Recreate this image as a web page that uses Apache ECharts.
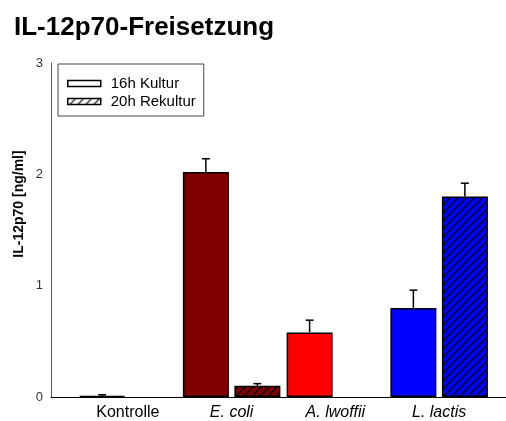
<!DOCTYPE html>
<html>
<head>
<meta charset="utf-8">
<script src="https://cdn.jsdelivr.net/npm/echarts@6/dist/echarts.min.js"></script>
<style>
  html, body { margin: 0; padding: 0; background: #fff; }
  #chart { width: 506px; height: 421px; }
</style>
</head>
<body>
<div id="chart"></div>
<script>
// IL-12p70 release (ng/ml), mean and standard error per stimulus
const categories = ['Kontrolle', 'E. coli', 'A. lwoffii', 'L. lactis'];
const seriesNames = ['16h Kultur', '20h Rekultur'];
const culture16h = [0.01, 2.02, 0.58, 0.80];
const culture16hErr = [0.01, 0.12, 0.11, 0.16];
const recult20h = [null, 0.10, null, 1.80];
const recult20hErr = [null, 0.02, null, 0.12];
const barColors = ['#ffffff', '#800000', '#ff0000', '#0000ff'];
const yTicks = [0, 1, 2, 3];

const FONT = '"Liberation Sans", Arial, sans-serif';
const BAR_W = 46;
const BAR_GAP = 5.5;
const HALF_STEP = (BAR_W + BAR_GAP) / 2;

// diagonal "/" hatching over a background colour
function hatch(bg, size, lw) {
  const n = size || 8;
  const c = document.createElement('canvas');
  c.width = n; c.height = n;
  const g = c.getContext('2d');
  g.fillStyle = bg;
  g.fillRect(0, 0, n, n);
  g.strokeStyle = '#000';
  g.lineWidth = lw || 1.3;
  g.beginPath();
  g.moveTo(0, n); g.lineTo(n, 0);
  g.moveTo(-3, 3); g.lineTo(3, -3);
  g.moveTo(n - 3, n + 3); g.lineTo(n + 3, n - 3);
  g.stroke();
  return { image: c, repeat: 'repeat' };
}

function errorRenderer(offset) {
  return function (params, api) {
    const x = api.value(0), v = api.value(1), e = api.value(2);
    const base = api.coord([x, v]);
    const top = api.coord([x, v + e]);
    const cx = base[0] + offset;
    const st = { stroke: '#000', lineWidth: 1.5 };
    return {
      type: 'group',
      children: [
        { type: 'line', shape: { x1: cx, y1: base[1], x2: cx, y2: top[1] }, style: st },
        { type: 'line', shape: { x1: cx - 4, y1: top[1], x2: cx + 4, y2: top[1] }, style: st }
      ]
    };
  };
}

function errData(vals, errs) {
  const out = [];
  vals.forEach((v, i) => { if (v != null) out.push([i, v, errs[i]]); });
  return out;
}

const chart = echarts.init(document.getElementById('chart'), null, { renderer: 'canvas' });

chart.setOption({
  animation: false,
  backgroundColor: '#fff',
  textStyle: { fontFamily: FONT },
  title: {
    text: 'IL-12p70-Freisetzung',
    left: 9,
    top: 10,
    textStyle: { fontSize: 26, fontWeight: 'bold', color: '#000', fontFamily: FONT }
  },
  legend: {
    orient: 'vertical',
    left: 58,
    top: 64,
    itemWidth: 33,
    itemHeight: 6,
    itemGap: 3,
    padding: [12, 8, 7, 9],
    borderColor: '#444',
    borderWidth: 1,
    selectedMode: false,
    icon: 'rect',
    textStyle: { fontSize: 15, color: '#000', fontFamily: FONT, padding: [0, 0, 0, 5] },
    data: [
      { name: seriesNames[0], itemStyle: { color: '#fff', borderColor: '#000', borderWidth: 1.5 } },
      { name: seriesNames[1], itemStyle: { color: hatch('#fff', 8, 1.2), borderColor: '#000', borderWidth: 1.5 } }
    ]
  },
  graphic: [{
    type: 'text',
    x: 19,
    y: 204,
    rotation: Math.PI / 2,
    style: {
      text: 'IL-12p70 [ng/ml]',
      font: 'bold 14px ' + FONT,
      fill: '#000',
      align: 'center',
      verticalAlign: 'middle'
    }
  }],
  grid: [
    { left: 51, right: 0, top: 63, bottom: 24 },
    { left: 76, right: 15, top: 63, bottom: 24 }
  ],
  xAxis: [
    {
      gridIndex: 0, type: 'category', data: [''],
      axisLine: { lineStyle: { color: '#000', width: 1 } },
      axisTick: { show: false }, axisLabel: { show: false }
    },
    {
      gridIndex: 1, type: 'category', data: categories,
      axisLine: { show: false }, axisTick: { show: false },
      axisLabel: {
        fontSize: 16, color: '#000', margin: 8, fontFamily: FONT,
        formatter: v => (v === 'Kontrolle' ? v : '{i|' + v + '}'),
        rich: { i: { fontStyle: 'italic', fontSize: 16, color: '#000', fontFamily: FONT } }
      }
    }
  ],
  yAxis: [
    {
      gridIndex: 0, type: 'value',
      min: yTicks[0], max: yTicks[yTicks.length - 1], interval: 1,
      axisLine: { show: true, lineStyle: { color: '#555', width: 1 } },
      axisTick: { show: false },
      splitLine: { show: false },
      axisLabel: { fontSize: 13, color: '#333', margin: 8, fontFamily: FONT }
    },
    {
      gridIndex: 1, type: 'value',
      min: yTicks[0], max: yTicks[yTicks.length - 1], interval: 1,
      show: false
    }
  ],
  series: [
    {
      name: seriesNames[0], type: 'bar', xAxisIndex: 1, yAxisIndex: 1,
      barWidth: BAR_W, barGap: (BAR_GAP / BAR_W * 100).toFixed(1) + '%',
      itemStyle: { borderColor: '#000', borderWidth: 1.5 },
      data: culture16h.map((v, i) => ({ value: v, itemStyle: { color: barColors[i] } }))
    },
    {
      name: seriesNames[1], type: 'bar', xAxisIndex: 1, yAxisIndex: 1,
      barWidth: BAR_W,
      itemStyle: { borderColor: '#000', borderWidth: 1.5 },
      data: recult20h.map((v, i) => (v == null ? '-' : { value: v, itemStyle: { color: hatch(barColors[i]) } }))
    },
    {
      type: 'custom', xAxisIndex: 1, yAxisIndex: 1, z: 5,
      renderItem: errorRenderer(-HALF_STEP),
      encode: { x: 0, y: 1 },
      data: errData(culture16h, culture16hErr)
    },
    {
      type: 'custom', xAxisIndex: 1, yAxisIndex: 1, z: 5,
      renderItem: errorRenderer(HALF_STEP),
      encode: { x: 0, y: 1 },
      data: errData(recult20h, recult20hErr)
    }
  ]
});
</script>
</body>
</html>
